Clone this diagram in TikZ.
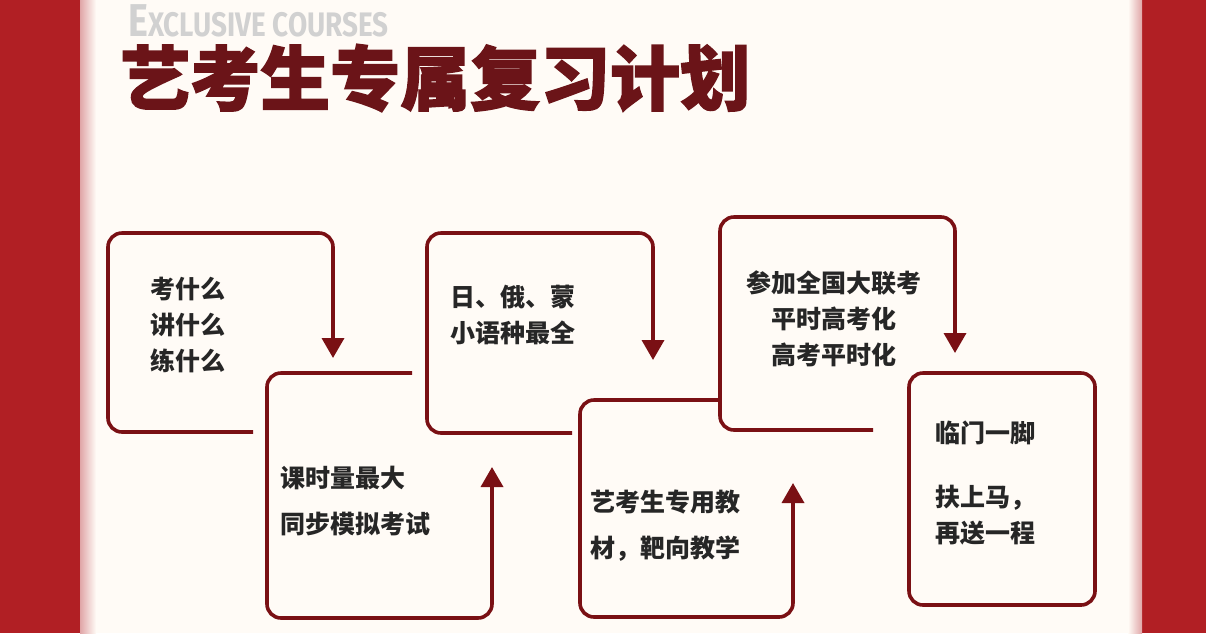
\documentclass[tikz,border=0pt]{standalone}
\usepackage{fontspec}
\setmainfont{Liberation Sans}
\newfontfamily\cjk{Noto Sans CJK SC}
\newfontfamily\cjkblack[FakeBold=2]{Noto Sans CJK SC}
\newfontfamily\condsans[FakeStretch=0.82]{Fira Sans}
\usetikzlibrary{arrows.meta}
\definecolor{barred}{HTML}{B11F24}
\definecolor{darkred}{HTML}{7A1014}
\definecolor{titlered}{HTML}{6B1418}
\definecolor{cream}{HTML}{FFFBF6}
\definecolor{inkgray}{HTML}{262626}

\begin{document}
\begin{tikzpicture}[
    x=1pt, y=-1pt,
    % open step outline
    steppath/.style={draw=darkred, line width=3.6pt, rounded corners=14pt},
    steparrow/.style={steppath, -{Triangle[length=20pt, width=22pt]}},
    steptext/.style={font=\cjk\bfseries\fontsize{25}{36}\selectfont, text=inkgray, align=left, anchor=west, inner sep=0pt},
]
\useasboundingbox (0,0) rectangle (1206,633);
\fill[cream] (0,0) rectangle (1206,633);
% side bars
\fill[barred] (0,0) rectangle (80,633);
\fill[barred] (1142,0) rectangle (1206,633);
\shade[left color=barred!40, right color=cream] (80,0) rectangle (96,633);
\shade[left color=cream, right color=barred!40] (1128,0) rectangle (1142,633);

% heading
\node[anchor=base west, inner sep=0pt, text=black!18, font=\condsans\bfseries\fontsize{46}{46}\selectfont] (sub) at (128,36) {E\fontsize{34}{34}\selectfont XCLUSIVE COURSES};
\node[anchor=west, inner sep=0pt, text=titlered, font=\cjkblack\bfseries\fontsize{70}{70}\selectfont] (title) at (120,78) {艺考生专属复习计划};

% steps
\coordinate (a1) at (253,432);
\coordinate (a2) at (333,358);
\draw[steparrow] (a1) -- (108,432) -- (108,233) -- (333,233) -- (a2);
\node[steptext] (t1) at (150,325) {考什么\\讲什么\\练什么};

\coordinate (b1) at (412,373);
\coordinate (b2) at (492,467);
\draw[steparrow] (b1) -- (267,373) -- (267,618) -- (492,618) -- (b2);
\node[steptext] (t2) at (280,501) {课时量最大\\[10pt]同步模拟考试};

\coordinate (c1) at (572,433);
\coordinate (c2) at (653,360);
\draw[steparrow] (c1) -- (427,433) -- (427,233) -- (653,233) -- (c2);
\node[steptext] (t3) at (450,315) {日、俄、蒙\\小语种最全};

\coordinate (d1) at (718,400);
\coordinate (d2) at (793,483);
\draw[steparrow] (d1) -- (580,400) -- (580,617) -- (793,617) -- (d2);
\node[steptext] (t4) at (590,526) {艺考生专用教\\[10pt]材，靶向教学};

\coordinate (e1) at (873,430);
\coordinate (e2) at (955,353);
\draw[steparrow] (e1) -- (720,430) -- (720,217) -- (955,217) -- (e2);
\node[steptext, align=center, anchor=center] (t5) at (834,319) {参加全国大联考\\平时高考化\\高考平时化};

\draw[steppath] (909,373) rectangle (1095,605);
\node[steptext] (t6) at (935,483) {临门一脚\\[28pt]扶上马，\\再送一程};
\end{tikzpicture}
\end{document}
